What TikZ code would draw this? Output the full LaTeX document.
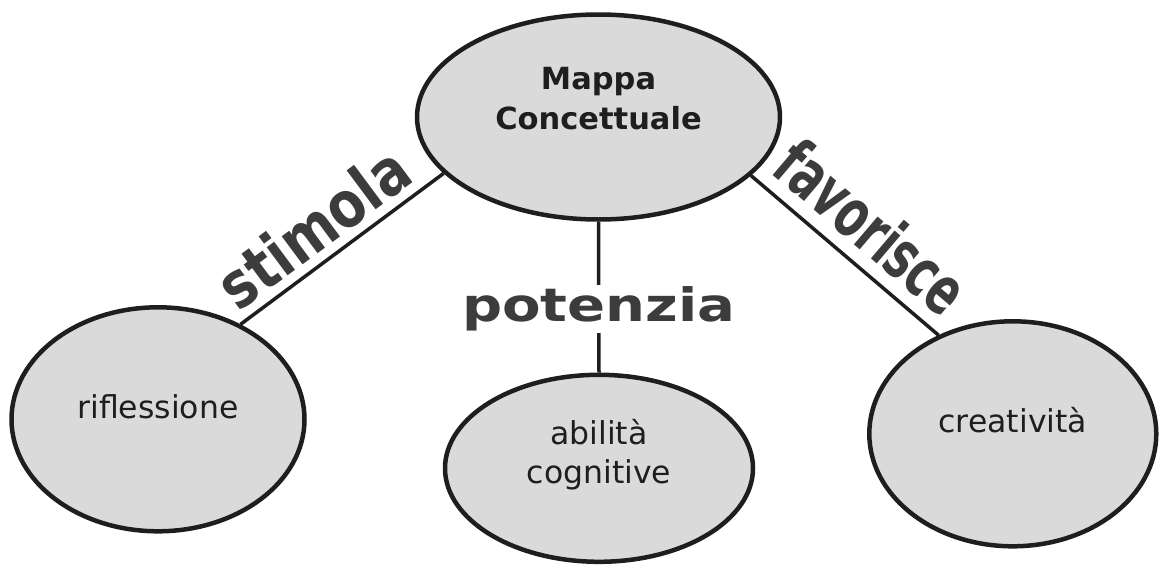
\documentclass[tikz,border=0pt]{standalone}
\usepackage{fontspec}
\setmainfont{DejaVu Sans}
\newfontfamily\narrowfont{DejaVu Sans Condensed}
\usetikzlibrary{shapes.geometric}
\definecolor{ink}{HTML}{1E1E1E}
\definecolor{bubble}{HTML}{DADADA}
\definecolor{verbgray}{HTML}{3C3C3C}

\begin{document}
\begin{tikzpicture}[x = 1pt, y = -1pt,
	concept/.style = {ellipse, draw = ink, line width = 4.5pt, fill = bubble, inner sep = 0pt},
	word/.style = {text = ink, align = center, font = \fontsize{31.5}{39}\selectfont},
	link/.style = {draw = ink, line width = 3.5pt},
	verb/.style = {text = verbgray, font = \fontsize{64}{64}\selectfont\bfseries, inner sep = 8pt}]
	\useasboundingbox (0,0) rectangle (1160,565);
	\node[concept, minimum width = 363pt, minimum height = 205pt, label = {[word, name = mappa-t, yshift = 18pt, font = \fontsize{30.5}{40}\selectfont\bfseries]center:Mappa\\Concettuale}] (mappa) at (598.5,117) {}; %top
	\node[concept, minimum width = 293pt, minimum height = 224pt, label = {[word, name = rifl-t, yshift = 13pt]center:riflessione}] (rifl) at (158,419.3) {}; %left
	\node[concept, minimum width = 308pt, minimum height = 187pt, label = {[word, name = abil-t, yshift = 14pt]center:abilità\\cognitive}] (abil) at (599,468.3) {}; %middle
	\node[concept, minimum width = 287pt, minimum height = 225pt, label = {[word, name = crea-t, yshift = 14pt]center:creatività}] (crea) at (1012.8,433.8) {}; %right
	\draw[link] (rifl.49) -- node[verb, sloped, above, pos = .46] (stimola) {\scalebox{.83}[1]{stimola}} (mappa.200);
	\draw[link] (mappa.-21) -- node[verb, sloped, above, pos = .51, inner sep = 12pt, font = \fontsize{67}{67}\selectfont\narrowfont\bfseries] (favorisce) {\scalebox{.73}[1]{favorisce}} (crea.127);
	\draw[link] (mappa.south) -- node[verb, fill = white, pos = .58, inner sep = 2pt, font = \fontsize{46}{46}\selectfont\bfseries] (potenzia) {\scalebox{1.22}[1]{potenzia}} (abil.north);
\end{tikzpicture}
\end{document}
